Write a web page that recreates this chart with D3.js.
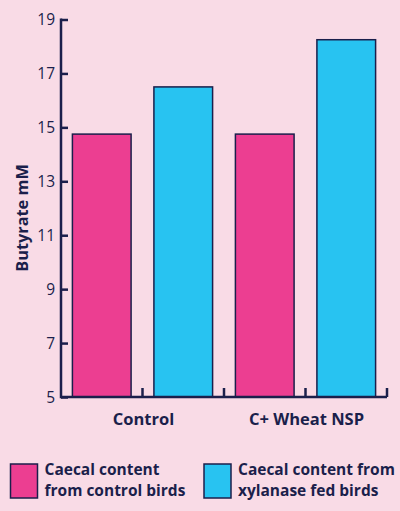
<!DOCTYPE html>
<html>
<head>
<meta charset="utf-8">
<script src="https://cdn.jsdelivr.net/npm/d3@7"></script>
<style>
  body { margin: 0; background: #f9dbe6; }
  svg { display: block; font-family: "Open Sans", sans-serif; }
</style>
</head>
<body>
<script>
var width = 400,
  height = 511;

// data
var groups = ["Control", "C+ Wheat NSP"];
var series = ["Caecal content from control birds", "Caecal content from xylanase fed birds"];
var legendLines = [["Caecal content", "from control birds"], ["Caecal content from", "xylanase fed birds"]];
var controlBirds = [14.75, 14.75];
var xylanaseBirds = [16.5, 18.25];
var yTicks = [5, 7, 9, 11, 13, 15, 17, 19];

var colors = ["#ec3e91", "#28c3f1"];
var navy = "#1b1f4b";

var svg = d3.select("body").append("svg").attr("width", width).attr("height", height);

svg.append("rect").attr("width", width).attr("height", height).attr("fill", "#f9dbe6");

var margin = { left: 61, right: 13, top: 19.5, bottom: 114 };
var x0 = margin.left, x1 = width - margin.right;
var yTop = margin.top, yBot = height - margin.bottom;

var y = d3.scaleLinear().domain([5, 19]).range([yBot, yTop]);

var xGroup = d3.scaleBand().domain(groups).range([x0, x1]).padding(0);
var xSeries = d3.scaleBand().domain([0, 1]).range([0, xGroup.bandwidth()]).paddingInner(0.28).paddingOuter(0.14);

var rows = [];
groups.forEach(function (g, i) {
  rows.push({ group: g, s: 0, value: controlBirds[i] });
  rows.push({ group: g, s: 1, value: xylanaseBirds[i] });
});

// bars
svg.selectAll("rect.bar")
  .data(rows)
  .join("rect")
  .attr("class", "bar")
  .attr("x", function (d) { return xGroup(d.group) + xSeries(d.s); })
  .attr("y", function (d) { return y(d.value); })
  .attr("width", xSeries.bandwidth())
  .attr("height", function (d) { return yBot - y(d.value); })
  .attr("fill", function (d) { return colors[d.s]; })
  .attr("stroke", navy)
  .attr("stroke-width", 1.5);

// y axis
var yAxis = svg.append("g").attr("transform", "translate(" + x0 + ",0)")
  .call(d3.axisRight(y).tickValues(yTicks).tickSize(7).tickFormat(""));
yAxis.select(".domain").remove();
yAxis.selectAll("line").attr("stroke", navy).attr("stroke-width", 2.5);
svg.append("line").attr("x1", x0).attr("x2", x0).attr("y1", yTop - 1).attr("y2", yBot + 1.2)
  .attr("stroke", navy).attr("stroke-width", 2.5);

svg.selectAll("text.ytick")
  .data(yTicks)
  .join("text")
  .attr("class", "ytick")
  .attr("x", x0 - 6)
  .attr("y", function (d) { return y(d); })
  .attr("dy", "0.36em")
  .attr("text-anchor", "end")
  .attr("fill", navy)
  .attr("font-size", 15.5)
  .text(function (d) { return d; });

// x axis with upward ticks at band middles and edges
svg.append("line").attr("x1", x0).attr("x2", x1).attr("y1", yBot).attr("y2", yBot)
  .attr("stroke", navy).attr("stroke-width", 2.5);
var tickXs = [];
groups.forEach(function (g) {
  tickXs.push(xGroup(g) + xGroup.bandwidth() / 2);
  tickXs.push(xGroup(g) + xGroup.bandwidth());
});
svg.selectAll("line.xtick")
  .data(tickXs)
  .join("line")
  .attr("class", "xtick")
  .attr("x1", function (d) { return d; })
  .attr("x2", function (d) { return d; })
  .attr("y1", yBot)
  .attr("y2", yBot - 9)
  .attr("stroke", navy)
  .attr("stroke-width", 2.5);

svg.selectAll("text.xlab")
  .data(groups)
  .join("text")
  .attr("class", "xlab")
  .attr("x", function (d) { return xGroup(d) + xGroup.bandwidth() / 2 + 1; })
  .attr("y", yBot + 28)
  .attr("text-anchor", "middle")
  .attr("font-size", 16.5)
  .attr("font-weight", "bold")
  .attr("fill", navy)
  .text(function (d) { return d; });

// y label
svg.append("text")
  .attr("transform", "translate(28,218) rotate(-90)")
  .attr("text-anchor", "middle")
  .attr("font-size", 16.3)
  .attr("font-weight", "bold")
  .attr("fill", navy)
  .text("Butyrate mM");

// legend
var legend = svg.selectAll("g.leg")
  .data(series)
  .join("g")
  .attr("class", "leg")
  .attr("transform", function (d, i) { return "translate(" + (i === 0 ? 10.5 : 204) + ",464)"; });
legend.append("rect")
  .attr("width", 27).attr("height", 34)
  .attr("fill", function (d, i) { return colors[i]; })
  .attr("stroke", navy).attr("stroke-width", 1.5);
legend.append("text")
  .attr("x", 34)
  .attr("y", 11)
  .attr("font-size", 15.5)
  .attr("font-weight", "bold")
  .attr("fill", navy)
  .selectAll("tspan")
  .data(function (d, i) { return legendLines[i]; })
  .join("tspan")
  .attr("x", 34)
  .attr("dy", function (d, j) { return j === 0 ? 0 : 20.5; })
  .text(function (d) { return d; });
</script>
</body>
</html>
